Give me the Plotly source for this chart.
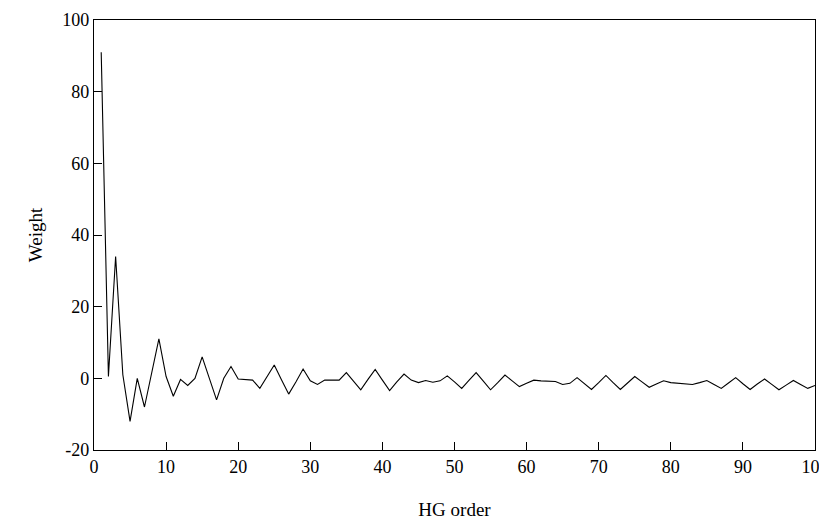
import plotly.graph_objects as go

hg_order = list(range(1, 101))
weight = [
    91, 0.5, 34, 1, -12, 0, -8, 1.5, 11, 0.5,
    -5, -0.3, -2, 0, 6, 0, -6, 0, 3.3, -0.2,
    -0.3, -0.5, -2.8, 0.5, 3.7, -0.4, -4.4, -1, 2.6, -0.7,
    -1.7, -0.5, -0.5, -0.5, 1.6, -0.8, -3.2, -0.3, 2.5, -0.5,
    -3.4, -1, 1.2, -0.5, -1.2, -0.6, -1.1, -0.7, 0.7, -1,
    -2.8, -0.6, 1.6, -0.8, -3.2, -1.2, 0.9, -0.7, -2.3, -1.4,
    -0.5, -0.7, -0.8, -0.9, -1.7, -1.4, 0.2, -1.5, -3.1, -1.2,
    0.8, -1.2, -3.1, -1.3, 0.5, -1, -2.5, -1.6, -0.7, -1.2,
    -1.3, -1.4, -1.7, -1.2, -0.6, -1.7, -2.8, -1.3, 0.2, -1.5,
    -3.1, -1.6, -0.2, -1.7, -3.2, -1.9, -0.6, -1.7, -2.8, -2.0,
]

x_ticks = [0, 10, 20, 30, 40, 50, 60, 70, 80, 90, 100]
x_tick_labels = ["0", "10", "20", "30", "40", "50", "60", "70", "80", "90", "100"]
y_ticks = [-20, 0, 20, 40, 60, 80, 100]
y_tick_labels = ["-20", "0", "20", "40", "60", "80", "100"]

fig = go.Figure(go.Scatter(
    x=hg_order, y=weight, mode="lines",
    line=dict(color="black", width=1.1),
    showlegend=False,
))

tick_font = dict(family="Liberation Serif, Times New Roman, serif", size=18, color="black")
title_font = dict(family="Liberation Serif, Times New Roman, serif", size=19, color="black")

fig.update_layout(
    width=827, height=518,
    margin=dict(l=86, r=20, t=12, b=76, autoexpand=False),
    paper_bgcolor="white", plot_bgcolor="white",
    font=tick_font,
    xaxis=dict(
        range=[0, 100], tickvals=x_ticks, ticktext=x_tick_labels,
        ticks="inside", ticklen=8,
        tickcolor="black", showline=True, linecolor="black", linewidth=1.3,
        mirror=True, showgrid=False, zeroline=False,
        title=dict(text="HG order", standoff=26, font=title_font),
        tickfont=tick_font,
    ),
    yaxis=dict(
        range=[-20, 100], tickvals=y_ticks, ticktext=y_tick_labels,
        ticks="inside", ticklen=8,
        tickcolor="black", showline=True, linecolor="black", linewidth=1.3,
        mirror=True, showgrid=False, zeroline=False,
        title=dict(text="Weight", standoff=14, font=title_font),
        tickfont=tick_font,
    ),
)

fig.write_html("out.html")
